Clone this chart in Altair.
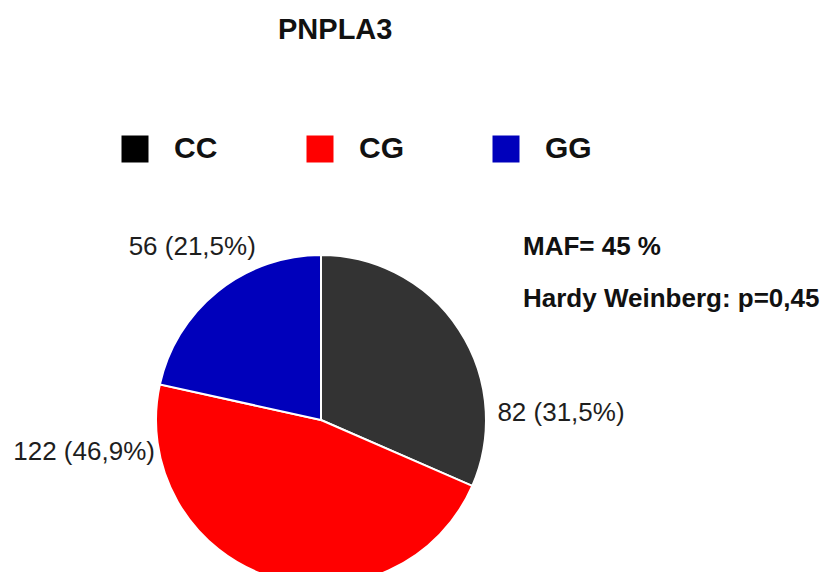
import altair as alt
import pandas as pd

# ---- data ----
genotypes = ["CC", "CG", "GG"]
counts = [82, 122, 56]
percents = ["31,5", "46,9", "21,5"]
colors = ["#000000", "#ff0000", "#0000bb"]
notes = ["MAF= 45 %", "Hardy Weinberg: p=0,45"]

df = pd.DataFrame({
    "genotype": genotypes,
    "count": counts,
    "label": [f"{c} ({p}%)" for c, p in zip(counts, percents)],
    "order": list(range(len(genotypes))),
})
notes_df = pd.DataFrame({"note": notes, "row": list(range(len(notes)))})

# ---- layout ----
FONT = "Liberation Sans"
PLOT_TOP = 45          # page y of the plot area's top edge
CX, CY, R = 313, 420 - PLOT_TOP, 165

color_scale = alt.Scale(domain=genotypes, range=colors)

pie = alt.Chart(df).mark_arc(stroke="white", strokeWidth=2, radius=R, clip=True).encode(
    theta=alt.Theta("count:Q", stack=True),
    order=alt.Order("order:Q"),
    x=alt.value(CX),
    y=alt.value(CY),
    color=alt.Color(
        "genotype:N",
        scale=color_scale,
        sort=genotypes,
        legend=alt.Legend(
            title=None,
            orient="none",
            legendX=112,
            legendY=134 - PLOT_TOP,
            direction="horizontal",
            columns=3,
            symbolType="square",
            symbolSize=729,
            symbolStrokeWidth=0,
            symbolOpacity=1,
            labelFont=FONT,
            labelFontSize=30,
            labelFontWeight="bold",
            labelColor="#111111",
            labelOffset=24,
            columnPadding=87,
        ),
    ),
    fillOpacity=alt.condition(alt.datum.genotype == "CC", alt.value(0.8), alt.value(1.0)),
)

# mid-angle of each slice, computed before any filtering
label_base = alt.Chart(df).transform_window(
    cum="sum(count)", sort=[alt.SortField("order")], frame=[None, 0]
).transform_calculate(mid="datum.cum - datum.count / 2")

# label placement: (radius, align, dx, dy)
label_layout = {
    "CC": (175, "left", 30, 89),
    "CG": (175, "right", -112, -134),
    "GG": (220, "center", 9, -1),
}

labels = []
for g in genotypes:
    rad, al, dx, dy = label_layout[g]
    labels.append(
        label_base.transform_filter(alt.datum.genotype == g).mark_text(
            radius=rad, align=al, baseline="middle", dx=dx, dy=dy,
            font=FONT, fontSize=26, color="#1e1e1e",
        ).encode(
            theta=alt.Theta("mid:Q", stack=None),
            x=alt.value(CX), y=alt.value(CY), text="label:N",
        )
    )

note_text = alt.Chart(notes_df).mark_text(
    align="left", baseline="middle", font=FONT, fontSize=26, fontWeight="bold", color="#111111",
).encode(
    x=alt.value(523 - 8),
    y=alt.Y("row:O", axis=None, scale=alt.Scale(range=[247 - PLOT_TOP, 299 - PLOT_TOP], padding=0)),
    text="note:N",
)

chart = alt.layer(pie, *labels, note_text).properties(
    width=815,
    height=527,
    title=alt.TitleParams(
        "PNPLA3", anchor="start", dx=270, font=FONT, fontSize=29, fontWeight="bold",
        color="#111111", offset=0,
    ),
    padding={"top": 8, "left": 0, "right": 0, "bottom": 0},
).configure_view(stroke=None).resolve_scale(y="independent")

chart.save("out.html", embed_options={"renderer": "svg", "actions": False})
